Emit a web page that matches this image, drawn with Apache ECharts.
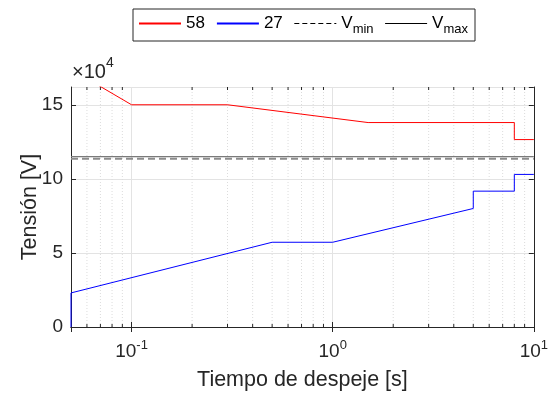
<!DOCTYPE html>
<html>
<head>
<meta charset="utf-8">
<script src="https://cdn.jsdelivr.net/npm/echarts@6/dist/echarts.min.js"></script>
<style>
  html, body { margin: 0; padding: 0; background: #fff; }
  #chart { width: 551px; height: 396px; }
</style>
</head>
<body>
<div id="chart"></div>
<script>
// datos
const tiempo58 = [0.05, 0.1, 0.3, 1.5, 8, 8, 10]
const tension58 = [174000, 150000, 150000, 138000, 138000, 126500, 126500]
const tiempo27 = [0.05, 0.05, 0.5, 1, 5, 5, 8, 8, 10]
const tension27 = [0, 23000, 57200, 57200, 80000, 91700, 91700, 103000, 103000]
const tiempoLim = [0.05, 10]
const vMin = 113600
const vMax = 115000
const minorX = [0.06, 0.07, 0.08, 0.09, 0.2, 0.3, 0.4, 0.5, 0.6, 0.7, 0.8, 0.9,
  2, 3, 4, 5, 6, 7, 8, 9]
const yMin = 0
const yMax = 162000

const axisColor = '#262626'
const font = '"Liberation Sans", Arial, sans-serif'

const pares = (xs, ys) => xs.map((x, i) => [x, ys[i]])

const chart = echarts.init(document.getElementById('chart'))

// rejilla menor y ticks menores del eje log
const renderMinor = (params, api) => {
  const x = api.value(0)
  const p0 = api.coord([x, yMin])
  const p1 = api.coord([x, yMax])
  return {
    type: 'group',
    children: [
      { type: 'line', shape: { x1: p0[0], y1: p0[1], x2: p1[0], y2: p1[1] },
        style: { stroke: '#dcdcdc', lineWidth: 1, lineDash: [1, 2] } },
      { type: 'line', shape: { x1: p0[0], y1: p0[1], x2: p0[0], y2: p0[1] - 3 },
        style: { stroke: axisColor, lineWidth: 1 } },
      { type: 'line', shape: { x1: p1[0], y1: p1[1], x2: p1[0], y2: p1[1] + 3 },
        style: { stroke: axisColor, lineWidth: 1 } }
    ]
  }
}

const xBase = {
  type: 'log',
  logBase: 10,
  min: 0.05,
  max: 10,
  axisLine: { show: true, lineStyle: { color: axisColor, width: 1 } },
  axisTick: { show: true, inside: true, length: 5, lineStyle: { color: axisColor } },
  splitLine: { show: false }
}

const yBase = {
  type: 'value',
  min: yMin,
  max: yMax,
  interval: 50000,
  axisLine: { show: true, lineStyle: { color: axisColor, width: 1 } },
  axisTick: { show: true, inside: true, length: 5, lineStyle: { color: axisColor } },
  splitLine: { show: false }
}

chart.setOption({
  animation: false,
  textStyle: { fontFamily: font },
  grid: { left: 71, right: 14, top: 87, bottom: 69 },
  legend: {
    left: 133,
    top: 9,
    padding: [6, 7, 5, 5],
    borderColor: '#262626',
    borderWidth: 1,
    itemWidth: 42,
    itemHeight: 12,
    itemGap: 11,
    itemStyle: { opacity: 0 },
    textStyle: {
      fontFamily: font,
      fontSize: 17,
      color: '#000',
      rich: {
        sub: { fontSize: 13, padding: [12, 0, 0, 0], color: '#000', fontFamily: font }
      }
    },
    formatter: name => {
      if (name === 'Vmin') return 'V{sub|min}'
      if (name === 'Vmax') return 'V{sub|max}'
      return name
    },
    data: [
      { name: '58' },
      { name: '27' },
      { name: 'Vmin', lineStyle: { color: '#000', width: 1, type: [5, 3] } },
      { name: 'Vmax', lineStyle: { color: '#000', width: 1 } }
    ]
  },
  graphic: [{
    type: 'text',
    left: 72,
    top: 56,
    style: {
      text: '{n|×10}{sup|4}',
      fill: axisColor,
      rich: {
        n: { fontSize: 20, fontFamily: font, fill: axisColor, padding: [10, 0, 0, 0] },
        sup: { fontSize: 14, fontFamily: font, fill: axisColor, padding: [0, 0, 8, 0] }
      }
    }
  }],
  xAxis: [
    Object.assign({}, xBase, {
      position: 'bottom',
      name: 'Tiempo de despeje [s]',
      nameLocation: 'middle',
      nameGap: 42,
      nameMoveOverlap: false,
      nameTextStyle: { fontSize: 21.5, color: axisColor, fontFamily: font },
      splitLine: { show: true, lineStyle: { color: '#e3e3e3', width: 1 } },
      axisLabel: {
        show: true,
        showMinLabel: false,
        margin: 12,
        fontSize: 19,
        color: axisColor,
        formatter: v => '10{sup|' + Math.round(Math.log10(v)) + '}',
        rich: { sup: { fontSize: 13, padding: [0, 0, 12, 0], color: axisColor } }
      }
    }),
    Object.assign({}, xBase, { position: 'top', axisLabel: { show: false } })
  ],
  yAxis: [
    Object.assign({}, yBase, {
      position: 'left',
      name: 'Tensión [V]',
      nameLocation: 'middle',
      nameGap: 30,
      nameMoveOverlap: false,
      nameTextStyle: { fontSize: 21.5, color: axisColor, fontFamily: font },
      splitLine: { show: true, lineStyle: { color: '#e3e3e3', width: 1 } },
      axisLabel: {
        margin: 8,
        fontSize: 19,
        color: axisColor,
        showMaxLabel: false,
        formatter: v => String(v / 10000)
      }
    }),
    Object.assign({}, yBase, { position: 'right', axisLabel: { show: false } })
  ],
  series: [
    {
      name: 'menor',
      type: 'custom',
      renderItem: renderMinor,
      data: minorX.map(x => [x]),
      silent: true,
      z: 1
    },
    {
      name: '58',
      type: 'line',
      data: pares(tiempo58, tension58),
      symbol: 'none',
      color: '#ff0000',
      lineStyle: { color: '#ff0000', width: 1 },
      z: 3
    },
    {
      name: '27',
      type: 'line',
      data: pares(tiempo27, tension27),
      symbol: 'none',
      color: '#0000ff',
      lineStyle: { color: '#0000ff', width: 1 },
      z: 3
    },
    {
      name: 'Vmin',
      type: 'line',
      data: pares(tiempoLim, [vMin, vMin]),
      symbol: 'none',
      color: '#000',
      lineStyle: { color: '#8c8c8c', width: 2, type: [7, 4] },
      z: 2
    },
    {
      name: 'Vmax',
      type: 'line',
      data: pares(tiempoLim, [vMax, vMax]),
      symbol: 'none',
      color: '#000',
      lineStyle: { color: '#7a7a7a', width: 1.3 },
      z: 2
    }
  ]
})
</script>
</body>
</html>
